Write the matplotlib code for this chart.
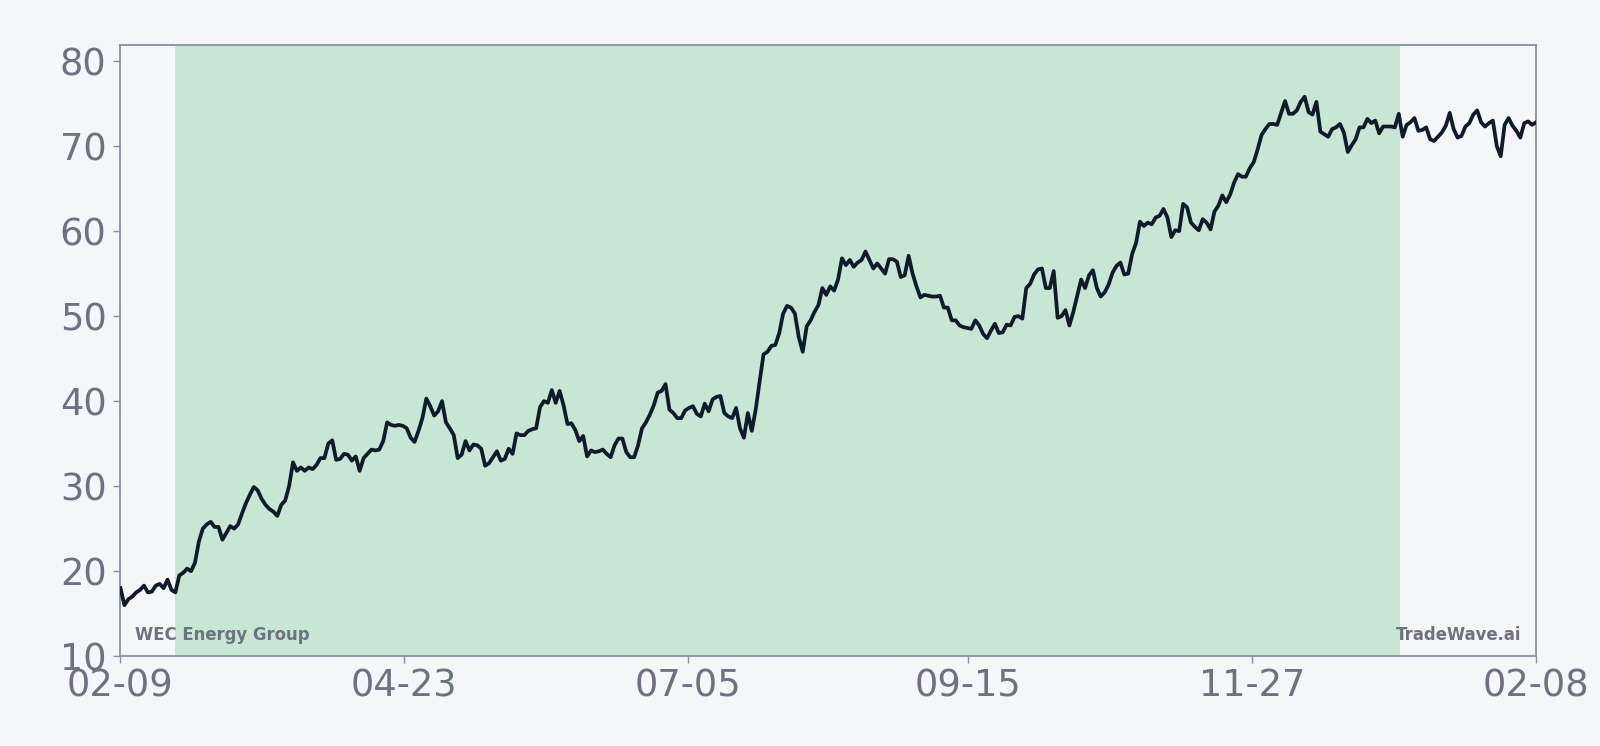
import numpy as np
import pandas as pd
import matplotlib
matplotlib.use('Agg')
import matplotlib.pyplot as plt
import matplotlib.dates as mdates

# price series (daily, 2023-02-09 .. 2024-02-08)
prices = [
    18.0, 16.0, 16.7, 17.0, 17.5, 17.8, 18.3, 17.5, 17.6, 18.3, 18.5, 18.0, 19.0, 17.8, 17.5,
    19.5, 19.8, 20.3, 20.0, 21.0, 23.5, 25.0, 25.5, 25.8, 25.2, 25.2, 23.7, 24.5, 25.3, 25.0,
    25.5, 26.8, 28.0, 29.0, 29.9, 29.5, 28.5, 27.8, 27.3, 27.0, 26.5, 27.8, 28.3, 30.0, 32.8,
    31.8, 32.2, 31.8, 32.2, 32.0, 32.5, 33.3, 33.3, 35.0, 35.4, 33.1, 33.2, 33.8, 33.7, 33.0,
    33.5, 31.8, 33.3, 33.8, 34.3, 34.2, 34.3, 35.3, 37.5, 37.2, 37.1, 37.2, 37.1, 36.8, 35.7,
    35.2, 36.5, 38.0, 40.3, 39.4, 38.3, 38.8, 40.0, 37.5, 36.8, 36.0, 33.3, 33.7, 35.3, 34.2,
    34.9, 34.8, 34.4, 32.4, 32.7, 33.4, 34.1, 33.0, 33.2, 34.4, 33.8, 36.2, 36.0, 36.0, 36.5,
    36.7, 36.8, 39.3, 40.0, 39.8, 41.3, 39.8, 41.2, 39.5, 37.3, 37.4, 36.6, 35.3, 35.9, 33.5,
    34.2, 34.0, 34.1, 34.3, 33.8, 33.4, 34.8, 35.6, 35.6, 34.0, 33.4, 33.4, 34.8, 36.8, 37.5,
    38.4, 39.5, 41.0, 41.2, 42.0, 39.0, 38.6, 38.0, 38.0, 38.9, 39.2, 39.4, 38.5, 38.2, 39.7,
    38.8, 40.2, 40.5, 40.6, 38.6, 38.2, 38.0, 39.2, 36.8, 35.7, 38.6, 36.5, 39.0, 42.3, 45.5,
    45.8, 46.5, 46.6, 48.0, 50.3, 51.2, 51.0, 50.3, 47.5, 45.8, 48.8, 49.5, 50.5, 51.3, 53.3,
    52.5, 53.5, 53.0, 54.3, 56.8, 56.0, 56.6, 55.8, 56.3, 56.6, 57.6, 56.6, 55.6, 56.2, 55.6,
    55.0, 56.7, 56.7, 56.4, 54.6, 54.8, 57.1, 55.0, 53.5, 52.2, 52.5, 52.4, 52.3, 52.3, 52.4,
    51.0, 51.0, 49.5, 49.5, 48.9, 48.7, 48.6, 48.5, 49.5, 48.9, 47.9, 47.4, 48.3, 49.1, 48.0,
    48.1, 49.0, 48.9, 49.9, 50.0, 49.7, 53.3, 53.8, 54.9, 55.5, 55.6, 53.3, 53.3, 55.3, 49.8,
    50.0, 50.7, 48.9, 50.5, 52.4, 54.3, 53.3, 54.8, 55.4, 53.3, 52.3, 52.8, 53.7, 55.1, 55.9,
    56.3, 54.9, 55.0, 57.3, 58.6, 61.1, 60.6, 61.0, 60.8, 61.6, 61.8, 62.6, 61.6, 59.3, 60.1,
    60.0, 63.2, 62.8, 61.0, 60.5, 60.1, 61.4, 61.0, 60.2, 62.3, 63.0, 64.2, 63.4, 64.3, 65.7,
    66.7, 66.4, 66.4, 67.4, 68.1, 69.6, 71.3, 72.0, 72.6, 72.6, 72.5, 73.9, 75.3, 73.8, 73.8,
    74.2, 75.2, 75.8, 74.0, 73.7, 75.2, 71.7, 71.4, 71.1, 72.0, 72.2, 72.6, 71.6, 69.3, 70.1,
    70.8, 72.2, 72.2, 73.2, 72.7, 73.0, 71.5, 72.3, 72.3, 72.3, 72.2, 73.8, 71.1, 72.5, 72.8,
    73.3, 71.8, 71.9, 72.2, 70.8, 70.6, 71.1, 71.6, 72.4, 73.9, 72.0, 71.0, 71.2, 72.3, 72.7,
    73.7, 74.2, 72.8, 72.3, 72.7, 73.0, 70.0, 68.8, 72.5, 73.3, 72.4, 71.8, 71.0, 72.7, 72.9,
    72.5, 72.8,
]
start_date = '2023-02-09'
end_date = '2024-02-08'
shade_start = '2023-02-23'
shade_end = '2024-01-04'
tick_dates = ['2023-02-09', '2023-04-23', '2023-07-05', '2023-09-15', '2023-11-27', '2024-02-08']
company = 'WEC Energy Group'
brand = 'TradeWave.ai'

dates = pd.to_datetime(np.linspace(pd.Timestamp(start_date).value,
                                   pd.Timestamp(end_date).value, len(prices)))

bg = '#f5f6f8'
grey = '#6b7280'
spine_c = '#8a8fa0'

fig = plt.figure(figsize=(16, 7.46), dpi=100, facecolor=bg)
ax = fig.add_axes([0.0753, 0.1204, 0.8847, 0.8194])
ax.set_facecolor(bg)

ax.axvspan(pd.Timestamp(shade_start), pd.Timestamp(shade_end), color='#c8e6d4', lw=0, zorder=0)
ax.plot(dates, prices, color='#0f1a2a', lw=2.7, zorder=3)

ax.set_xlim(pd.Timestamp(start_date), pd.Timestamp(end_date))
ax.set_ylim(10, 81.9)
ax.set_yticks([10, 20, 30, 40, 50, 60, 70, 80])
ax.set_xticks(pd.to_datetime(tick_dates))
ax.xaxis.set_major_formatter(mdates.DateFormatter('%m-%d'))

for s in ax.spines.values():
    s.set_color(spine_c)
    s.set_linewidth(1.3)
ax.tick_params(axis='both', colors=spine_c, labelcolor=grey, labelsize=26.5, length=5, width=1)
ax.tick_params(axis='y', pad=5)
ax.tick_params(axis='x', pad=3)

ax.text(0.01, 0.02, company, transform=ax.transAxes, fontsize=11.9, fontweight='bold',
        color=grey, ha='left', va='bottom')
ax.text(0.99, 0.02, brand, transform=ax.transAxes, fontsize=11.9, fontweight='bold',
        color=grey, ha='right', va='bottom')

fig.savefig('out.png', dpi=100, facecolor=bg)
